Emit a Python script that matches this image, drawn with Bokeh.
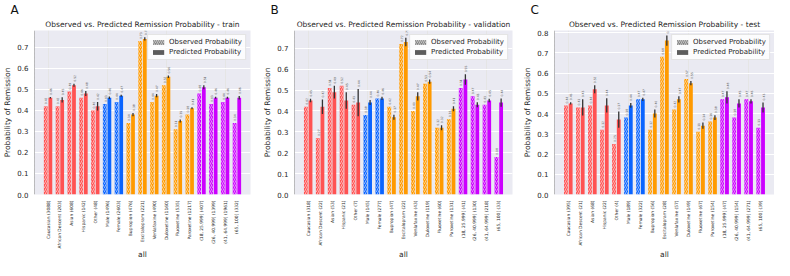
import math
from bokeh.plotting import figure
from bokeh.models import (ColumnDataSource, Range1d, FixedTicker, Legend, LegendItem, Title,
                          PrintfTickFormatter)
from bokeh.layouts import row, column
from bokeh.transform import dodge
from bokeh.core.properties import value
from bokeh.embed import file_html
from bokeh.resources import INLINE

FONT = "DejaVu Sans"

groups = ["race"] * 5 + ["sex"] * 2 + ["drug"] * 6 + ["age"] * 4
group_colors = {"race": "#ff5252", "sex": "#0a64ff", "drug": "#ff9a00", "age": "#cc00ff"}

labels_train = ["Caucasian (3088)", "African Descent (203)", "Asian (608)", "Hispanic (142)", "Other (48)",
                "Male (1496)", "Female (2603)", "Bupropion (476)", "Escitalopram (221)", "Venlafaxine (490)",
                "Duloxetine (1160)", "Fluoxetine (535)", "Paroxetine (1217)", "(18, 25.999] (407)",
                "(26, 40.999] (1399)", "(41, 64.999] (1961)", "(65, 100] (332)"]
obs_train = [0.42, 0.42, 0.49, 0.46, 0.40, 0.43, 0.44, 0.34, 0.73, 0.44, 0.52, 0.31, 0.38, 0.48, 0.43, 0.44, 0.34]
pred_train = [0.46, 0.45, 0.52, 0.48, 0.42, 0.46, 0.47, 0.38, 0.74, 0.47, 0.56, 0.35, 0.41, 0.51, 0.46, 0.46, 0.46]
err_train = [0.004, 0.012, 0.007, 0.012, 0.02, 0.006, 0.005, 0.008, 0.008, 0.008, 0.006, 0.007, 0.005, 0.01, 0.005, 0.005, 0.008]

labels_val = ["Caucasian (318)", "African Descent (22)", "Asian (53)", "Hispanic (21)", "Other (7)",
              "Male (145)", "Female (277)", "Bupropion (47)", "Escitalopram (22)", "Venlafaxine (43)",
              "Duloxetine (119)", "Fluoxetine (60)", "Paroxetine (131)", "(18, 25.999] (41)",
              "(26, 40.999] (130)", "(41, 64.999] (218)", "(65, 100] (33)"]
obs_val = [0.42, 0.27, 0.51, 0.52, 0.43, 0.38, 0.46, 0.42, 0.72, 0.40, 0.53, 0.32, 0.36, 0.51, 0.47, 0.43, 0.18]
pred_val = [0.45, 0.42, 0.49, 0.45, 0.44, 0.44, 0.46, 0.37, 0.73, 0.47, 0.54, 0.32, 0.41, 0.55, 0.43, 0.45, 0.44]
err_val = [0.008, 0.035, 0.03, 0.04, 0.065, 0.012, 0.008, 0.012, 0.02, 0.02, 0.01, 0.012, 0.012, 0.025, 0.012, 0.008, 0.02]

labels_test = ["Caucasian (395)", "African Descent (21)", "Asian (68)", "Hispanic (22)", "Other (4)",
               "Male (189)", "Female (322)", "Bupropion (56)", "Escitalopram (28)", "Venlafaxine (57)",
               "Duloxetine (149)", "Fluoxetine (67)", "Paroxetine (154)", "(18, 25.999] (47)",
               "(26, 40.999] (154)", "(41, 64.999] (271)", "(65, 100] (39)"]
obs_test = [0.44, 0.43, 0.44, 0.32, 0.25, 0.38, 0.47, 0.32, 0.68, 0.42, 0.57, 0.31, 0.36, 0.47, 0.38, 0.47, 0.33]
pred_test = [0.45, 0.43, 0.52, 0.44, 0.37, 0.44, 0.47, 0.40, 0.76, 0.47, 0.55, 0.34, 0.38, 0.48, 0.45, 0.46, 0.43]
err_test = [0.006, 0.04, 0.02, 0.035, 0.04, 0.012, 0.008, 0.02, 0.025, 0.015, 0.01, 0.015, 0.012, 0.03, 0.02, 0.01, 0.025]

yticks_ab = [0.0, 0.1, 0.2, 0.3, 0.4, 0.5, 0.6, 0.7]
yticks_c = [0.0, 0.1, 0.2, 0.3, 0.4, 0.5, 0.6, 0.7, 0.8]
x_axis_title = "all"

MAIN_H = 199
LAB_H = 61


def panel(letter, split, labels, obs, pred, err, ymax, yticks, width, bl, br):
    n = len(labels)
    idx = list(range(n))
    src = ColumnDataSource(dict(
        x=idx, obs=obs, pred=pred,
        lo=[p - e for p, e in zip(pred, err)],
        hi=[p + e for p, e in zip(pred, err)],
        color=[group_colors[g] for g in groups],
        obs_txt=["%.2f" % v for v in obs],
        pred_txt=["%.2f" % v for v in pred],
        lab=labels,
    ))
    xr = Range1d(-1.15, n - 1 + 1.15)
    p = figure(width=width, height=MAIN_H, x_range=xr, y_range=Range1d(0, ymax),
               output_backend="svg", toolbar_location=None, x_axis_location=None,
               min_border_left=bl, min_border_right=br, min_border_top=0, min_border_bottom=5,
               background_fill_color="#eaeaf2", border_fill_color="white", outline_line_color=None)
    p.title.text = letter
    p.title.text_font = FONT
    p.title.text_font_size = "12px"
    p.title.text_font_style = "normal"
    p.title.text_color = "#111111"
    p.title.align = "left"
    p.title.offset = -24
    p.title.standoff = 0
    p.add_layout(Title(text="Observed vs. Predicted Remission Probability - " + split, text_font=FONT,
                       text_font_size="7.5px", text_font_style="normal", text_color="#262626",
                       align="center", standoff=3), "above")

    bw = 0.32
    off = 0.195
    p.vbar(x=dodge("x", -off), top="obs", width=bw, source=src, fill_color="color", line_color=None,
           hatch_pattern="/", hatch_color="white", hatch_scale=4, hatch_weight=0.6, hatch_alpha=0.9)
    p.vbar(x=dodge("x", off), top="pred", width=bw, source=src, fill_color="color", line_color=None)
    p.segment(x0=dodge("x", off), y0="lo", x1=dodge("x", off), y1="hi", source=src,
              line_color="#333333", line_width=1.3)
    p.text(x=dodge("x", -off), y="obs", text="obs_txt", source=src, angle=math.pi / 2,
           text_font_size="3px", text_align="left", text_baseline="middle", text_color="#555555",
           y_offset=-2, text_font=value(FONT))
    p.text(x=dodge("x", off), y="hi", text="pred_txt", source=src, angle=math.pi / 2,
           text_font_size="3px", text_align="left", text_baseline="middle", text_color="#555555",
           y_offset=-2, text_font=value(FONT))

    r_obs = p.vbar(x=[-50], top=[1], width=0.3, fill_color="#808080", line_color=None,
                   hatch_pattern="/", hatch_color="white", hatch_scale=4, hatch_weight=0.6)
    r_pred = p.vbar(x=[-50], top=[1], width=0.3, fill_color="#5c5c5c", line_color=None)
    leg = Legend(items=[LegendItem(label="Observed Probability", renderers=[r_obs]),
                        LegendItem(label="Predicted Probability", renderers=[r_pred])],
                 location="top_right", label_text_font=FONT, label_text_font_size="7px",
                 label_text_color="#262626", label_height=8, glyph_height=6, glyph_width=14,
                 spacing=2, padding=3, margin=4, label_standoff=4,
                 border_line_color="#cccccc", background_fill_color="white", background_fill_alpha=0.85)
    p.add_layout(leg)

    p.yaxis.ticker = FixedTicker(ticks=yticks)
    p.yaxis.formatter = PrintfTickFormatter(format="%.1f")
    p.yaxis.axis_label = "Probability of Remission"
    p.yaxis.major_label_text_font_size = "7px"
    p.yaxis.major_label_standoff = 6
    p.yaxis.axis_label_standoff = 2
    ax = p.yaxis
    ax.axis_line_color = None
    ax.major_tick_line_color = None
    ax.minor_tick_line_color = None
    ax.major_tick_in = 0
    ax.major_tick_out = 0
    ax.minor_tick_in = 0
    ax.minor_tick_out = 0
    ax.major_label_text_font = FONT
    ax.major_label_text_color = "#262626"
    ax.axis_label_text_font = FONT
    ax.axis_label_text_font_size = "7.5px"
    ax.axis_label_text_font_style = "normal"
    ax.axis_label_text_color = "#262626"
    p.ygrid.grid_line_color = "white"
    p.ygrid.grid_line_width = 1
    p.ygrid.ticker = FixedTicker(ticks=yticks)

    # strip below the frame holding the rotated category labels and the x-axis title
    q = figure(width=width, height=LAB_H, x_range=xr, y_range=Range1d(0, LAB_H),
               output_backend="svg", toolbar_location=None, x_axis_location=None, y_axis_location=None,
               min_border_left=bl, min_border_right=br, min_border_top=0, min_border_bottom=0,
               background_fill_color="white", border_fill_color="white", outline_line_color=None)
    q.xgrid.grid_line_color = None
    q.ygrid.grid_line_color = None
    q.text(x="x", y=LAB_H - 1, text="lab", source=src, angle=math.pi / 2, text_align="right",
           text_baseline="middle", text_font=value(FONT), text_font_size="4.4px", text_color="#262626")
    q.text(x=[(n - 1) / 2], y=[6], text=[x_axis_title], text_align="center", text_baseline="middle",
           text_font=value(FONT), text_font_size="7.5px", text_color="#262626")
    return column(p, q)


pa = panel("A", "train", labels_train, obs_train, pred_train, err_train, 0.78, yticks_ab, 260, 28, 10)
pb = panel("B", "validation", labels_val, obs_val, pred_val, err_val, 0.785, yticks_ab, 260, 28, 8)
pc = panel("C", "test", labels_test, obs_test, pred_test, err_test, 0.81, yticks_c, 254, 30, 0)

layout = row(pa, pb, pc)
open("out.html", "w").write(file_html(layout, INLINE))
